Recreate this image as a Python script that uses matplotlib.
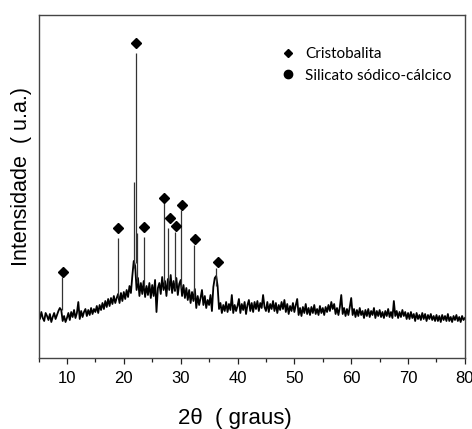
import numpy as np
import matplotlib
matplotlib.use("Agg")
import matplotlib.pyplot as plt
from matplotlib.lines import Line2D

# 2-theta grid of the background trace (degrees), step 0.25
two_theta = np.arange(5.0, 80.001, 0.25)

# background intensity (a.u.), 20 values per 5 degrees
intensity = [
    43, 39, 46, 40, 37, 45, 42, 38, 44, 36, 41, 45, 39, 43, 47, 50, 48, 37, 42, 36,   # 5-9.75
    40, 45, 38, 46, 41, 48, 40, 45, 56, 39, 47, 41, 46, 49, 42, 48, 43, 50, 44, 49,   # 10-14.75
    46, 52, 45, 53, 48, 55, 49, 57, 51, 59, 52, 60, 54, 62, 55, 60, 64, 55, 65, 57,   # 15-19.75
    66, 59, 68, 61, 72, 65, 82, 97, 92, 68, 80, 62, 75, 64, 77, 61, 72, 63, 75, 60,   # 20-24.75
    73, 62, 78, 46, 70, 75, 64, 81, 68, 77, 62, 79, 68, 83, 65, 77, 67, 80, 63, 74,   # 25-29.75
    78, 62, 73, 60, 70, 58, 68, 55, 66, 57, 69, 50, 62, 53, 60, 68, 53, 62, 50, 58,   # 30-34.75
    53, 63, 47, 71, 80, 82, 72, 49, 55, 45, 53, 47, 56, 46, 54, 48, 63, 45, 53, 47,   # 35-39.75
    52, 59, 45, 54, 48, 56, 44, 53, 58, 47, 55, 46, 56, 49, 57, 47, 55, 50, 63, 51,   # 40-44.75
    47, 56, 46, 54, 49, 57, 47, 55, 45, 53, 48, 56, 49, 58, 46, 54, 44, 52, 47, 55,   # 45-49.75
    46, 53, 59, 43, 50, 42, 51, 45, 54, 44, 50, 43, 51, 45, 53, 44, 49, 43, 52, 45,   # 50-54.75
    50, 43, 51, 46, 53, 47, 56, 49, 54, 44, 50, 43, 51, 63, 44, 50, 42, 49, 43, 51,   # 55-59.75
    60, 43, 49, 41, 48, 42, 50, 43, 47, 40, 48, 42, 49, 41, 47, 43, 50, 40, 47, 42,   # 60-64.75
    48, 41, 46, 40, 47, 42, 49, 41, 46, 40, 57, 42, 47, 40, 46, 41, 48, 42, 46, 39,   # 65-69.75
    45, 39, 46, 40, 44, 37, 45, 39, 43, 38, 45, 39, 44, 37, 43, 39, 44, 38, 42, 37,   # 70-74.75
    43, 37, 42, 36, 43, 38, 42, 37, 44, 37, 41, 36, 42, 38, 43, 37, 41, 36, 42, 38, 40,  # 75-80
]

# sharp diffraction peaks: position, foot and top (a.u.)
peak_x = [9.17, 18.95, 21.8, 22.06, 22.35, 23.5, 27.1, 27.7, 29.0, 30.1, 32.4, 36.2]
peak_base = [48, 60, 90, 95, 75, 70, 72, 70, 69, 70, 60, 72]
peak_top = [81, 120, 176, 305, 125, 121, 155, 130, 126, 148, 113, 90]

# Cristobalita markers
marker_x = [9.29, 18.95, 22.1, 23.5, 27.15, 28.15, 29.27, 30.26, 32.55, 36.53]
marker_y = [86, 130, 315, 131, 160, 140, 132, 153, 119, 96]

legend_labels = ["Cristobalita", "Silicato sódico-cálcico"]
x_ticks = [10, 20, 30, 40, 50, 60, 70, 80]

fig = plt.figure(figsize=(4.72, 4.29), dpi=100)
ax = fig.add_axes([0.0816, 0.1655, 0.9034, 0.7995])

ax.plot(two_theta, intensity, color="black", lw=1.3)
ax.vlines(peak_x, peak_base, peak_top, color="#333333", lw=0.9)
ax.plot(marker_x, marker_y, linestyle="none", marker="D", ms=5, color="black")

ax.set_xlim(5, 80)
ax.set_ylim(0, 343)
ax.set_xticks(x_ticks)
ax.set_xticks(np.arange(5, 81, 5), minor=True)
ax.tick_params(axis="x", which="major", direction="out", length=4, width=0.9,
               labelsize=12, pad=5, colors="#222222", labelcolor="black")
ax.tick_params(axis="x", which="minor", direction="out", length=3, width=0.9,
               colors="#222222")
ax.set_yticks([])
for lab in ax.get_xticklabels():
    lab.set_fontfamily("Liberation Sans")
for sp in ax.spines.values():
    sp.set_color("#444444")
    sp.set_linewidth(1.0)

ax.set_xlabel("2θ  ( graus)", fontfamily="Liberation Sans", fontsize=16, va="center")
ax.xaxis.set_label_coords(0.46, -0.175)
ax.set_ylabel("Intensidade  ( u.a.)", fontfamily="Liberation Sans", fontsize=15.5, va="center")
ax.yaxis.set_label_coords(-0.039, 0.53)

handles = [
    Line2D([], [], linestyle="none", marker="D", ms=4, color="black"),
    Line2D([], [], linestyle="none", marker="o", ms=6, color="black"),
]
leg = ax.legend(handles, legend_labels, loc="upper right", bbox_to_anchor=(1.0, 0.947),
                frameon=False, prop={"family": "Lato", "size": 11},
                handlelength=1.0, handletextpad=0.6, labelspacing=0.5)

fig.savefig("out.png", dpi=100)
